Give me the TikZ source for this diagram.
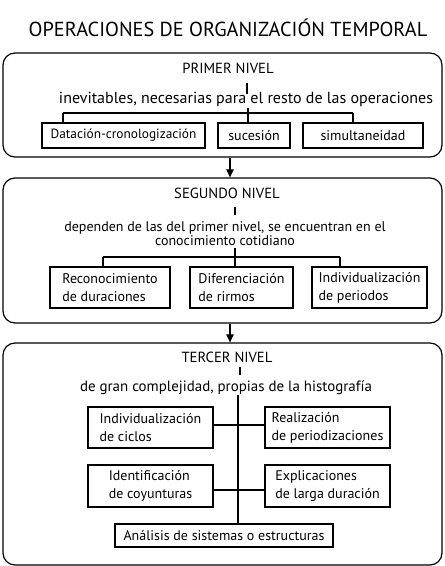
\documentclass[tikz,border=0pt]{standalone}
\usepackage{fontspec}
\setmainfont{PT Sans}
\usetikzlibrary{arrows.meta}
\begin{document}
\begin{tikzpicture}[x=0.75pt,y=-0.75pt,
  wh/.style 2 args={minimum width=#1*0.75pt, minimum height=#2*0.75pt},
  level/.style={draw, line width=0.9pt, rounded corners=9pt, inner sep=0pt},
  item/.style={draw, line width=0.8pt, inner sep=0pt, font=\fontsize{10.5}{13.5}\selectfont},
  itemL/.style={item, align=left},
  head/.style={font=\fontsize{11}{13}\selectfont, inner sep=0pt},
  txt/.style={font=\fontsize{10.5}{10.5}\selectfont, inner sep=0pt, align=center},
  conn/.style={line width=0.8pt},
  arr/.style={line width=0.8pt, -{Triangle[length=6pt,width=5.5pt]}}
]
\useasboundingbox (0,0) rectangle (444,566);
% title
\node[font=\fontsize{15.2}{17}\selectfont, inner sep=0pt] (title) at (228,28) {OPERACIONES DE ORGANIZACIÓN TEMPORAL};
% outer boxes
\node[level, wh={439}{104}] (b1) at (222.5,105) {};
\node[level, wh={439}{145}] (b2) at (222.5,250.5) {};
\node[level, wh={439}{222}] (b3) at (222.5,454) {};
% ---- level 1
\node[head] (h1) at (228,68) {PRIMER NIVEL};
\node[txt, font=\fontsize{12}{13}\selectfont] (t1) at (246,99) {inevitables, necesarias para el resto de las operaciones};
\node[item, wh={163}{25}, font=\fontsize{10}{12}\selectfont] (dat) at (123.5,135.5) {Datación-cronologización};
\node[item, wh={72}{25}] (suc) at (254,135.5) {sucesión};
\node[item, wh={120}{25}] (sim) at (363,135.5) {simultaneidad};
\coordinate (k1) at (247,83);
\coordinate (j1) at (248,113);
\coordinate (l1) at (63,113);
\coordinate (r1) at (353,113);
\draw[conn] (k1) -- ++(0,11);
\draw[conn] (j1) ++(0,-5) -- (j1);
\draw[conn] (l1) -- (r1);
\draw[conn] (l1) -- (l1 |- dat.north);
\draw[conn] (j1) -- (j1 |- suc.north);
\draw[conn] (r1) -- (r1 |- sim.north);
% arrow 1
\coordinate (a1) at (230,0);
\draw[arr] (a1 |- b1.south) -- (a1 |- b2.north);
% ---- level 2
\node[head] (h2) at (227,193) {SEGUNDO NIVEL};
\node[txt] (t2) at (225,233.5) {dependen de las del primer nivel, se encuentran en el\\conocimiento cotidiano};
\node[itemL, wh={120}{41}] (rec) at (110,287.5) {Reconocimiento\\de duraciones};
\node[itemL, wh={103}{41}] (dif) at (241.5,287.5) {Diferenciación\\de rirmos};
\node[itemL, wh={115}{41}] (ind) at (369.5,287.5) {Individualización\\de periodos};
\coordinate (k2) at (235,207);
\coordinate (j2) at (235,257);
\coordinate (l2) at (103,257);
\coordinate (r2) at (340,257);
\draw[conn] (k2) -- ++(0,8);
\draw[conn] (j2) ++(0,-9) -- (j2);
\draw[conn] (l2) -- (r2);
\draw[conn] (l2) -- (l2 |- rec.north);
\draw[conn] (j2) -- (j2 |- dif.north);
\draw[conn] (r2) -- (r2 |- ind.north);
% arrow 2
\draw[arr] (a1 |- b2.south) -- (a1 |- b3.north);
% ---- level 3
\node[head] (h3) at (227,357) {TERCER NIVEL};
\node[txt, font=\fontsize{11.2}{12}\selectfont] (t3) at (226,388) {de gran complejidad, propias de la histografía};
\node[itemL, wh={125}{41}] (ic) at (150.5,427.5) {Individualización\\de ciclos};
\node[itemL, wh={125}{41}] (rp) at (327.5,427.5) {Realización\\de periodizaciones};
\node[itemL, wh={125}{42}] (co) at (150.5,486) {Identificación\\de coyunturas};
\node[itemL, wh={125}{42}] (ex) at (327.5,486) {Explicaciones\\de larga duración};
\node[item, wh={218}{23}] (an) at (224,535.5) {Análisis de sistemas o estructuras};
\coordinate (k3) at (240,367);
\coordinate (v3) at (238,395);
\draw[conn] (k3) -- ++(0,8);
\draw[conn] (v3) -- (v3 |- an.north);
\draw[conn] (ic.east |- 0,425) -- (rp.west |- 0,425);
\draw[conn] (co.east |- 0,490) -- (ex.west |- 0,490);
\end{tikzpicture}
\end{document}
